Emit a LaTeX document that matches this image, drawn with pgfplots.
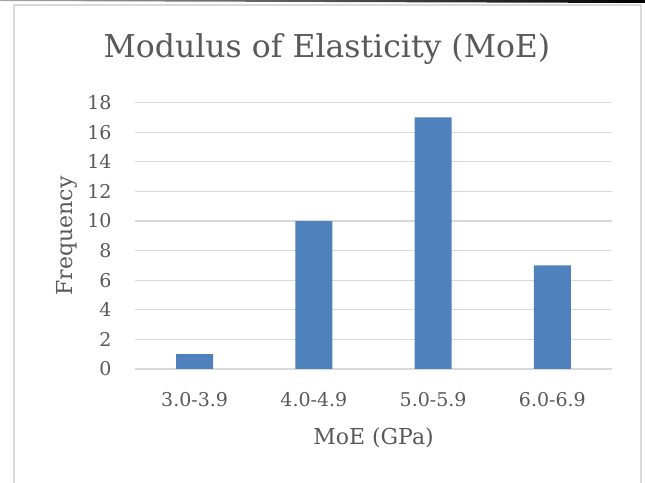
\documentclass[border=0pt]{standalone}
\usepackage{fontspec}
\setmainfont{DejaVu Serif}
\usepackage{pgfplots}
\pgfplotsset{compat=1.18}
\definecolor{txt}{HTML}{595959}
\definecolor{gridc}{HTML}{D9D9D9}
\definecolor{barc}{HTML}{4F81BD}
\pgfplotstableread{
x y
0 1
1 10
2 17
3 7
}\moedata
\begin{document}
\begin{tikzpicture}[x=1bp,y=1bp]
\useasboundingbox (0,0) rectangle (645,483);
\fill[white] (0,0) rectangle (645,483);
\shade[left color=black!35, right color=black] (0,483) -- (645,483) -- (645,480) -- (0,482) -- cycle;
\draw[gridc, line width=2bp] (13.7,-10) -- (13.7,478) -- (641,478) -- (641,-10);
\node[anchor=base, text=txt, font=\fontsize{31.5bp}{36bp}\selectfont] at (327,425) {Modulus of Elasticity (MoE)};
\begin{axis}[
  at={(135bp,114bp)}, anchor=south west,
  scale only axis, width=477bp, height=266.3bp,
  xmin=-0.5, xmax=3.5, ymin=0, ymax=18,
  ybar, bar width=37bp,
  xtick={0,1,2,3},
  xticklabels={3.0-3.9,4.0-4.9,5.0-5.9,6.0-6.9},
  ytick={0,2,...,18},
  major tick length=0pt,
  axis line style={draw=none},
  ymajorgrids, grid style={gridc, line width=1.2bp},
  /pgf/number format/assume math mode=true,
  tick label style={text=txt, font=\fontsize{19bp}{22bp}\selectfont},
  xticklabel style={anchor=base, yshift=-38bp},
  yticklabel style={anchor=east, xshift=-20bp},
  xlabel={MoE (GPa)}, ylabel={Frequency},
  every axis x label/.style={at={(axis description cs:0.5,0)}, anchor=base, yshift=-76bp, text=txt, font=\fontsize{22bp}{26bp}\selectfont},
  every axis y label/.style={at={(axis description cs:0,0.5)}, xshift=-63bp, rotate=90, anchor=base, text=txt, font=\fontsize{22bp}{26bp}\selectfont},
]
\addplot[fill=barc, draw=none] table[x=x, y=y] {\moedata};
\end{axis}
\end{tikzpicture}
\end{document}
